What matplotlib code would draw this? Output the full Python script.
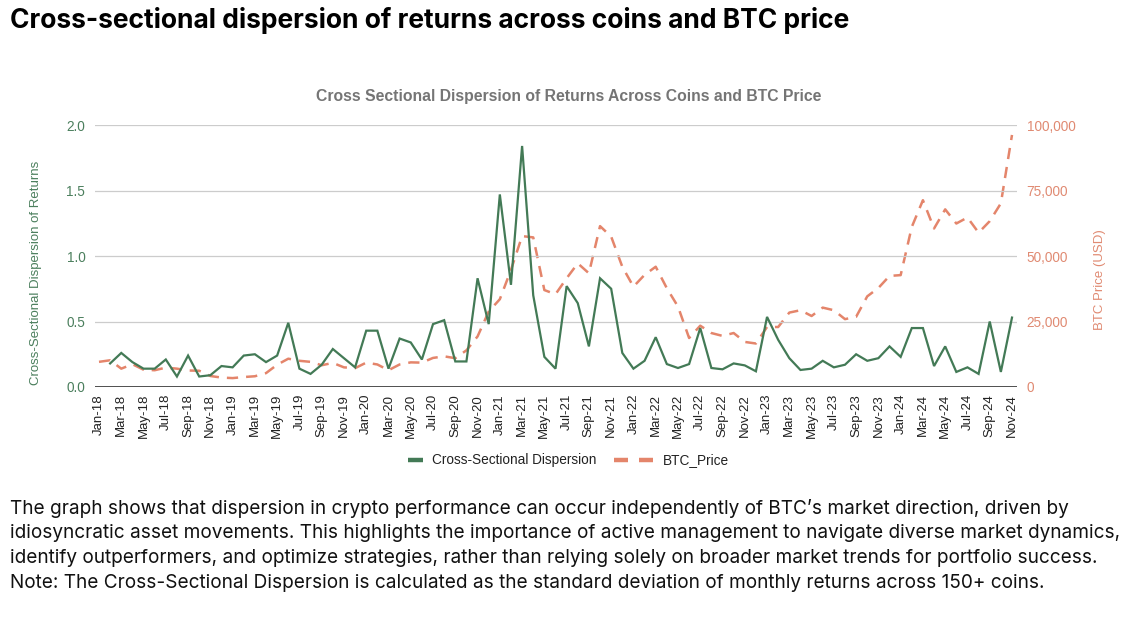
import numpy as np
import matplotlib
matplotlib.use("Agg")
import matplotlib.pyplot as plt
from matplotlib.lines import Line2D
from matplotlib.ticker import FuncFormatter, MultipleLocator

# ---- data ----
months = ["Jan", "Feb", "Mar", "Apr", "May", "Jun", "Jul", "Aug", "Sep", "Oct", "Nov", "Dec"]
dates = [f"{m}-{y}" for y in range(18, 25) for m in months][:83]  # Jan-18 .. Nov-24

dispersion = [np.nan, 0.18, 0.26, 0.19, 0.14, 0.14, 0.21, 0.08, 0.24, 0.08, 0.09, 0.16,
              0.15, 0.24, 0.25, 0.19, 0.24, 0.49, 0.14, 0.10, 0.17, 0.29, 0.22, 0.15,
              0.43, 0.43, 0.14, 0.37, 0.34, 0.21, 0.48, 0.51, 0.195, 0.195, 0.83, 0.48,
              1.47, 0.78, 1.84, 0.70, 0.23, 0.14, 0.77, 0.64, 0.31, 0.83, 0.75, 0.26,
              0.14, 0.20, 0.38, 0.175, 0.145, 0.175, 0.45, 0.145, 0.135, 0.18, 0.165, 0.12,
              0.535, 0.36, 0.22, 0.13, 0.14, 0.20, 0.15, 0.17, 0.25, 0.20, 0.22, 0.31,
              0.23, 0.45, 0.45, 0.16, 0.31, 0.115, 0.15, 0.10, 0.50, 0.115, 0.53]

btc_price = [9600, 10200, 7000, 8700, 6600, 6400, 7400, 7000, 6300, 6200, 4200, 3600,
             3400, 3800, 4100, 5300, 8500, 10800, 10000, 9600, 8300, 9200, 7500, 7200,
             9300, 8600, 6400, 8600, 9400, 9300, 11100, 11700, 11000, 14000, 19300, 28800,
             33500, 44700, 57600, 57100, 37000, 35400, 41500, 47200, 43400, 61400, 57400, 45900,
             38300, 42800, 45900, 37700, 30700, 18700, 23400, 20600, 19500, 20600, 17200, 16600,
             22900, 22900, 28400, 29300, 27100, 30300, 29300, 25900, 26800, 34600, 37800, 42400,
             42700, 61100, 71300, 60500, 67800, 62400, 64700, 58900, 63300, 70100, 96200]

series_names = ["Cross-Sectional Dispersion", "BTC_Price"]

# ---- style ----
GREEN = "#437a56"
GREEN_TXT = "#4b7f5d"
ORANGE = "#e4856b"
ORANGE_TXT = "#e08a72"
GRID = "#cccccc"
ARIAL = ["Liberation Sans", "DejaVu Sans"]
INTER = ["Inter", "DejaVu Sans"]

W, H = 1140, 617
fig = plt.figure(figsize=(W / 100, H / 100), dpi=100)


def px(x, y):
    return (x / W, 1 - y / H)


L, R, T, B = 95, 1017, 125, 387
ax = fig.add_axes([L / W, 1 - B / H, (R - L) / W, (B - T) / H])
ax2 = ax.twinx()

x = np.arange(len(dates))
ax.plot(x, dispersion, color=GREEN, lw=1.6, zorder=3, solid_joinstyle="miter")
ax2.plot(x, btc_price, color=ORANGE, lw=1.8, dashes=(4.5, 3.2), zorder=2)

ax.set_zorder(ax2.get_zorder() + 1)
ax.patch.set_visible(False)

ax.set_xlim(-4 / 11.13, 82 + 5 / 11.13)
ax.set_ylim(0, 2.0)
ax2.set_ylim(0, 100000)
ax.yaxis.set_major_locator(MultipleLocator(0.5))
ax2.yaxis.set_major_locator(MultipleLocator(25000))
ax.yaxis.set_major_formatter(FuncFormatter(lambda v, p: f"{v:.1f}"))
ax2.yaxis.set_major_formatter(FuncFormatter(lambda v, p: f"{int(v):,}"))

ax.set_xticks(x[::2])
ax.set_xticklabels(dates[::2], rotation=90, fontsize=9.5, family=ARIAL, color="#222222")

ax.grid(axis="y", color=GRID, lw=0.9)
ax.set_axisbelow(True)
for a in (ax, ax2):
    for s in ("top", "right", "left", "bottom"):
        a.spines[s].set_visible(False)
ax.axhline(0, color="#333333", lw=1.2, zorder=4)

ax.tick_params(axis="both", length=0)
ax.tick_params(axis="x", pad=5)
ax.tick_params(axis="y", labelcolor=GREEN_TXT, labelsize=9.8, pad=7)
ax2.tick_params(axis="y", length=0, labelcolor=ORANGE_TXT, labelsize=9.8, pad=7)
for lab in ax.get_yticklabels() + ax2.get_yticklabels():
    lab.set_family(ARIAL)

ax.set_ylabel("Cross-Sectional Dispersion of Returns", color=GREEN_TXT, fontsize=9.5,
              family=ARIAL)
ax.yaxis.set_label_coords(-0.057, 0.435)
ax2.set_ylabel("BTC Price (USD)", color=ORANGE_TXT, fontsize=9.5, family=ARIAL)
ax2.yaxis.set_label_coords(1.0835, 0.408)

# chart title
fig.text(*px(569, 97), "Cross Sectional Dispersion of Returns Across Coins and BTC Price",
         ha="center", va="center", fontsize=11.3, fontweight="bold", color="#757575", family=ARIAL)

# legend (drawn below the chart)
fig.add_artist(Line2D([408 / W, 423 / W], [1 - 460 / H] * 2, color=GREEN, lw=3.2,
                      solid_capstyle="butt"))
fig.text(*px(432, 460), series_names[0], ha="left", va="center", fontsize=9.8,
         family=ARIAL, color="#222222")
for x0, x1 in ((614, 628), (639, 653)):
    fig.add_artist(Line2D([x0 / W, x1 / W], [1 - 460 / H] * 2, color=ORANGE, lw=3.2,
                          solid_capstyle="butt"))
fig.text(*px(663, 460), series_names[1], ha="left", va="center", fontsize=9.8,
         family=ARIAL, color="#222222")

# page title
fig.text(*px(10, 20), "Cross-sectional dispersion of returns across coins and BTC price",
         ha="left", va="center", fontsize=19, fontweight="bold", color="#000000", family=INTER)

body = [
    "The graph shows that dispersion in crypto performance can occur independently of BTC\u2019s market direction, driven by",
    "idiosyncratic asset movements. This highlights the importance of active management to navigate diverse market dynamics,",
    "identify outperformers, and optimize strategies, rather than relying solely on broader market trends for portfolio success.",
    "Note: The Cross-Sectional Dispersion is calculated as the standard deviation of monthly returns across 150+ coins.",
]
ys = [509, 533, 558, 583]
for line, yy in zip(body, ys):
    fig.text(*px(10, yy), line, ha="left", va="center", fontsize=13.7, color="#111111",
             family=INTER)

fig.savefig("out.png", dpi=100)
